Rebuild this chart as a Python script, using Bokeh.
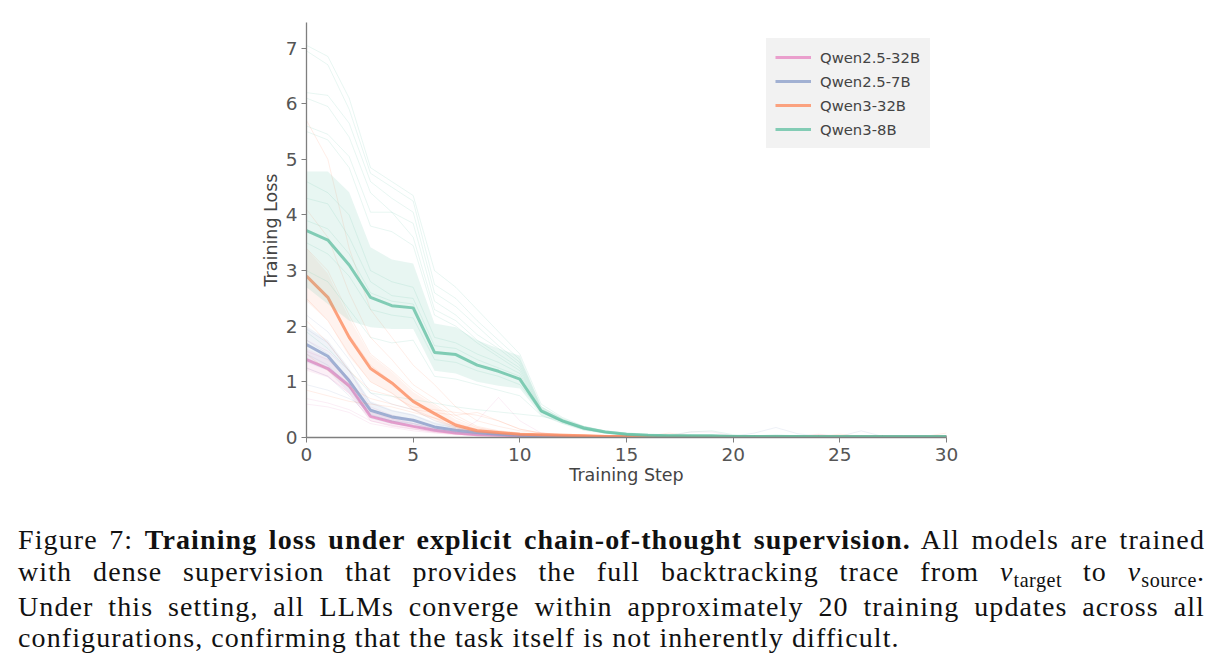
from bokeh.plotting import figure
from bokeh.models import Div
from bokeh.layouts import column
from bokeh.embed import file_html
from bokeh.resources import INLINE

# ---------------- data ----------------
steps = list(range(31))
x_ticks = [0, 5, 10, 15, 20, 25, 30]
y_ticks = [0, 1, 2, 3, 4, 5, 6, 7]
models = ["Qwen2.5-32B", "Qwen2.5-7B", "Qwen3-32B", "Qwen3-8B"]
colors = ["#e78ac3", "#8da0cb", "#fc8d62", "#66c2a5"]

pink_mean = [1.40,1.24,0.93,0.38,0.28,0.20,0.13,0.08,0.05,0.04,0.03,0.02,0.02,0.01,0.01,0.01,0.01,0.01,0.01,0.01,0.01,0.01,0.01,0.01,0.01,0.01,0.01,0.01,0.01,0.01,0.01]
pink_lo   = [1.20,1.08,0.78,0.30,0.20,0.14,0.08,0.05,0.03,0.02,0.01,0.01,0.01,0.00,0.00,0.00,0.00,0.00,0.00,0.00,0.00,0.00,0.00,0.00,0.00,0.00,0.00,0.00,0.00,0.00,0.00]
pink_hi   = [1.60,1.42,1.08,0.48,0.36,0.27,0.18,0.12,0.08,0.06,0.04,0.03,0.02,0.02,0.02,0.02,0.02,0.02,0.02,0.02,0.02,0.02,0.02,0.02,0.02,0.02,0.02,0.02,0.02,0.02,0.02]

blue_mean = [1.67,1.46,1.02,0.49,0.37,0.31,0.19,0.13,0.09,0.06,0.04,0.03,0.02,0.02,0.01,0.01,0.01,0.01,0.01,0.01,0.01,0.01,0.01,0.01,0.01,0.01,0.01,0.01,0.01,0.01,0.01]
blue_lo   = [1.35,1.20,0.80,0.38,0.27,0.22,0.12,0.07,0.04,0.03,0.02,0.01,0.01,0.01,0.00,0.00,0.00,0.00,0.00,0.00,0.00,0.00,0.00,0.00,0.00,0.00,0.00,0.00,0.00,0.00,0.00]
blue_hi   = [2.00,1.75,1.25,0.65,0.50,0.42,0.28,0.20,0.14,0.10,0.07,0.05,0.03,0.03,0.02,0.02,0.02,0.02,0.02,0.02,0.02,0.02,0.02,0.02,0.02,0.02,0.02,0.02,0.02,0.02,0.02]

orange_mean = [2.90,2.52,1.80,1.24,0.98,0.65,0.43,0.22,0.12,0.09,0.06,0.05,0.04,0.03,0.02,0.02,0.01,0.01,0.01,0.01,0.01,0.01,0.01,0.01,0.01,0.01,0.01,0.01,0.01,0.01,0.01]
orange_lo   = [2.45,2.10,1.45,1.00,0.78,0.48,0.30,0.14,0.07,0.05,0.03,0.02,0.01,0.01,0.00,0.00,0.00,0.00,0.00,0.00,0.00,0.00,0.00,0.00,0.00,0.00,0.00,0.00,0.00,0.00,0.00]
orange_hi   = [3.40,2.95,2.15,1.48,1.18,0.82,0.58,0.32,0.18,0.13,0.09,0.07,0.06,0.05,0.04,0.03,0.02,0.02,0.02,0.02,0.02,0.02,0.02,0.02,0.02,0.02,0.02,0.02,0.02,0.02,0.02]

green_mean = [3.72,3.55,3.10,2.52,2.37,2.33,1.53,1.49,1.30,1.19,1.05,0.48,0.30,0.17,0.10,0.06,0.04,0.03,0.03,0.03,0.02,0.02,0.02,0.02,0.02,0.02,0.02,0.02,0.02,0.02,0.02]
green_lo   = [2.70,2.40,2.10,1.98,1.95,1.95,1.20,1.15,1.00,0.93,0.88,0.40,0.25,0.14,0.08,0.04,0.03,0.02,0.02,0.02,0.01,0.01,0.01,0.01,0.01,0.01,0.01,0.01,0.01,0.01,0.01]
green_hi   = [4.78,4.78,4.41,3.42,3.20,3.13,2.05,1.98,1.75,1.60,1.47,0.56,0.35,0.20,0.12,0.08,0.06,0.05,0.04,0.04,0.03,0.03,0.03,0.03,0.03,0.03,0.03,0.03,0.03,0.03,0.03]

# individual runs (faint lines)
pink_runs = [
    [1.75,1.55,1.20,0.55,0.40,0.30,0.20,0.13,0.09,0.07,0.05,0.04,0.03,0.02,0.02,0.02,0.02,0.02,0.02,0.02,0.02,0.02,0.02,0.02,0.02,0.02,0.02,0.02,0.02,0.02,0.02],
    [1.55,1.40,1.05,0.45,0.33,0.25,0.16,0.10,0.07,0.05,0.03,0.03,0.02,0.02,0.02,0.02,0.02,0.02,0.02,0.02,0.02,0.02,0.02,0.02,0.02,0.02,0.02,0.02,0.02,0.02,0.02],
    [1.40,1.25,0.92,0.38,0.27,0.20,0.13,0.08,0.05,0.04,0.02,0.02,0.02,0.02,0.02,0.02,0.02,0.02,0.02,0.02,0.02,0.02,0.02,0.02,0.06,0.02,0.02,0.02,0.02,0.02,0.02],
    [1.25,1.10,0.80,0.30,0.22,0.16,0.10,0.06,0.04,0.03,0.02,0.02,0.02,0.02,0.02,0.02,0.02,0.02,0.02,0.02,0.02,0.02,0.02,0.02,0.02,0.02,0.02,0.02,0.02,0.02,0.02],
    [0.70,0.62,0.50,0.30,0.20,0.15,0.10,0.07,0.30,0.72,0.30,0.08,0.04,0.03,0.02,0.02,0.02,0.02,0.02,0.02,0.02,0.02,0.02,0.02,0.02,0.02,0.02,0.02,0.02,0.02,0.02],
    [0.60,0.55,0.45,0.25,0.18,0.12,0.08,0.05,0.04,0.03,0.02,0.02,0.02,0.02,0.02,0.02,0.02,0.02,0.10,0.10,0.03,0.02,0.02,0.02,0.02,0.02,0.02,0.02,0.02,0.02,0.02],
]
blue_runs = [
    [2.20,1.90,1.40,0.80,0.60,0.50,0.30,0.20,0.14,0.10,0.07,0.05,0.04,0.03,0.02,0.02,0.02,0.02,0.02,0.02,0.02,0.02,0.02,0.02,0.02,0.02,0.02,0.02,0.02,0.02,0.02],
    [1.95,1.70,1.20,0.62,0.48,0.40,0.25,0.17,0.12,0.08,0.05,0.04,0.03,0.02,0.02,0.02,0.02,0.02,0.02,0.02,0.02,0.08,0.18,0.07,0.02,0.02,0.02,0.02,0.02,0.02,0.02],
    [1.75,1.50,1.05,0.50,0.38,0.30,0.19,0.13,0.09,0.06,0.04,0.03,0.02,0.02,0.02,0.02,0.02,0.02,0.02,0.02,0.02,0.02,0.02,0.02,0.02,0.02,0.12,0.02,0.02,0.02,0.02],
    [1.50,1.30,0.90,0.42,0.30,0.25,0.15,0.10,0.07,0.05,0.03,0.02,0.02,0.02,0.02,0.02,0.02,0.02,0.02,0.02,0.02,0.02,0.02,0.02,0.02,0.02,0.02,0.02,0.02,0.02,0.02],
    [1.25,1.10,0.75,0.35,0.25,0.20,0.12,0.08,0.05,0.04,0.02,0.02,0.02,0.02,0.02,0.02,0.02,0.02,0.02,0.02,0.02,0.02,0.02,0.02,0.02,0.02,0.02,0.02,0.02,0.02,0.02],
    [0.95,0.85,0.70,0.50,0.40,0.32,0.20,0.14,0.10,0.07,0.05,0.04,0.03,0.02,0.02,0.02,0.02,0.02,0.02,0.02,0.02,0.02,0.02,0.02,0.02,0.02,0.02,0.02,0.02,0.02,0.02],
]
orange_runs = [
    [5.70,5.00,3.40,2.30,1.80,1.30,0.95,0.55,0.30,0.20,0.12,0.08,0.06,0.05,0.04,0.03,0.03,0.03,0.03,0.02,0.02,0.02,0.02,0.02,0.02,0.02,0.02,0.02,0.02,0.02,0.02],
    [4.10,3.60,2.60,1.80,1.40,0.95,0.70,0.40,0.20,0.12,0.08,0.06,0.05,0.04,0.03,0.03,0.02,0.02,0.02,0.02,0.02,0.02,0.02,0.02,0.02,0.02,0.02,0.02,0.02,0.02,0.02],
    [3.40,3.00,2.20,1.50,1.20,0.85,0.60,0.35,0.18,0.10,0.07,0.05,0.04,0.03,0.03,0.02,0.02,0.02,0.02,0.02,0.02,0.02,0.02,0.02,0.02,0.02,0.02,0.02,0.02,0.02,0.02],
    [2.90,2.50,1.85,1.30,1.00,0.65,0.45,0.25,0.12,0.08,0.05,0.04,0.03,0.03,0.02,0.02,0.02,0.02,0.02,0.02,0.02,0.02,0.02,0.02,0.02,0.06,0.02,0.02,0.02,0.02,0.02],
    [2.50,2.10,1.50,1.00,0.80,0.50,0.35,0.18,0.10,0.07,0.05,0.04,0.03,0.02,0.02,0.02,0.02,0.02,0.02,0.02,0.02,0.02,0.02,0.02,0.02,0.02,0.02,0.02,0.02,0.02,0.08],
    [2.10,1.70,1.20,0.85,0.75,0.55,0.50,0.45,0.40,0.30,0.15,0.08,0.05,0.04,0.03,0.03,0.03,0.08,0.03,0.02,0.02,0.02,0.02,0.02,0.02,0.02,0.02,0.02,0.02,0.02,0.02],
    [0.85,0.75,0.65,0.60,0.55,0.45,0.35,0.25,0.15,0.10,0.06,0.04,0.03,0.03,0.02,0.02,0.02,0.02,0.02,0.02,0.02,0.02,0.02,0.02,0.05,0.02,0.02,0.02,0.02,0.02,0.02],
    [1.50,1.20,0.90,0.70,0.60,0.50,0.45,0.40,0.45,0.30,0.15,0.08,0.05,0.04,0.03,0.03,0.02,0.02,0.02,0.02,0.02,0.02,0.02,0.02,0.02,0.02,0.02,0.02,0.02,0.02,0.02],
]
green_runs = [
    [7.05,6.85,6.10,4.85,4.60,4.35,3.00,2.70,2.30,1.90,1.50,0.60,0.36,0.20,0.12,0.08,0.06,0.05,0.05,0.04,0.04,0.03,0.05,0.03,0.03,0.03,0.03,0.02,0.02,0.02,0.02],
    [6.95,6.70,5.90,4.75,4.50,4.25,2.75,2.50,2.10,1.75,1.40,0.55,0.33,0.18,0.10,0.07,0.05,0.04,0.04,0.04,0.03,0.03,0.03,0.03,0.03,0.02,0.02,0.02,0.02,0.02,0.02],
    [6.20,6.15,5.65,4.60,4.30,4.05,2.60,2.35,2.00,1.65,1.35,0.52,0.31,0.17,0.10,0.06,0.05,0.04,0.10,0.12,0.05,0.03,0.03,0.03,0.02,0.02,0.02,0.02,0.02,0.02,0.02],
    [6.10,5.95,5.40,4.40,4.05,3.85,2.45,2.20,1.85,1.60,1.30,0.50,0.30,0.16,0.09,0.06,0.05,0.04,0.04,0.03,0.03,0.03,0.03,0.03,0.02,0.02,0.02,0.02,0.02,0.02,0.02],
    [5.60,5.45,5.05,4.05,4.05,3.60,2.30,2.10,1.75,1.50,1.25,0.48,0.29,0.16,0.09,0.06,0.04,0.04,0.03,0.03,0.03,0.03,0.03,0.02,0.02,0.02,0.02,0.02,0.02,0.02,0.02],
    [5.50,5.35,4.85,3.80,3.70,3.45,2.20,2.00,1.70,1.45,1.20,0.47,0.28,0.15,0.09,0.05,0.04,0.03,0.03,0.03,0.03,0.03,0.02,0.02,0.02,0.02,0.02,0.02,0.02,0.02,0.02],
    [4.60,4.40,4.00,3.00,2.80,2.70,1.80,1.70,1.50,1.35,1.15,0.46,0.28,0.15,0.09,0.05,0.04,0.03,0.03,0.03,0.03,0.02,0.02,0.02,0.02,0.02,0.02,0.02,0.02,0.02,0.02],
    [4.30,4.20,3.60,2.80,2.55,2.50,1.65,1.60,1.40,1.25,1.10,0.45,0.27,0.14,0.08,0.05,0.04,0.03,0.03,0.03,0.02,0.02,0.02,0.02,0.02,0.02,0.02,0.02,0.02,0.02,0.02],
    [3.90,3.75,3.30,2.60,2.45,2.40,1.55,1.50,1.32,1.20,1.05,0.47,0.29,0.16,0.10,0.06,0.04,0.03,0.03,0.03,0.02,0.02,0.02,0.02,0.02,0.02,0.02,0.02,0.02,0.02,0.02],
    [3.50,3.30,2.90,2.30,2.20,2.15,1.40,1.35,1.20,1.10,0.95,0.46,0.28,0.15,0.09,0.05,0.04,0.03,0.03,0.02,0.02,0.02,0.02,0.02,0.02,0.02,0.02,0.02,0.02,0.02,0.02],
    [3.00,2.80,2.30,1.80,1.70,1.75,1.10,1.05,0.95,0.85,0.75,0.40,0.25,0.13,0.08,0.05,0.03,0.03,0.03,0.02,0.02,0.02,0.02,0.02,0.02,0.02,0.02,0.02,0.02,0.02,0.02],
    [1.90,1.60,1.20,0.80,0.74,0.68,0.62,0.55,0.50,0.46,0.42,0.38,0.30,0.20,0.12,0.08,0.06,0.05,0.04,0.04,0.03,0.03,0.03,0.03,0.02,0.02,0.02,0.02,0.02,0.02,0.02],
]

series = [
    (pink_runs, pink_lo, pink_hi, pink_mean),
    (blue_runs, blue_lo, blue_hi, blue_mean),
    (orange_runs, orange_lo, orange_hi, orange_mean),
    (green_runs, green_lo, green_hi, green_mean),
]

# ---------------- figure ----------------
p = figure(width=1226, height=500, x_range=(0, 30), y_range=(0, 7.46),
           output_backend="svg", toolbar_location=None,
           min_border_left=306, min_border_right=280,
           min_border_top=22, min_border_bottom=63)
p.outline_line_color = None
p.xgrid.visible = False
p.ygrid.visible = False
p.background_fill_color = "white"

band_alpha = [0.13, 0.13, 0.10, 0.15]
for name, col, ba, (runs, lo, hi, mean) in zip(models, colors, band_alpha, series):
    p.multi_line([steps] * len(runs), runs, line_color=col, line_alpha=0.15, line_width=1)
    p.varea(x=steps, y1=lo, y2=hi, fill_color=col, fill_alpha=ba)
    p.line(steps, mean, line_color=col, line_alpha=0.8, line_width=3, legend_label=name)

for ax in (p.xaxis[0], p.yaxis[0]):
    ax.axis_line_color = "#7f7f7f"
    ax.axis_line_width = 1.3
    ax.major_tick_line_color = "#7f7f7f"
    ax.major_tick_out = 5
    ax.major_tick_in = 0
    ax.minor_tick_line_color = None
    ax.major_label_text_font = "DejaVu Sans"
    ax.major_label_text_font_size = "18.5px"
    ax.major_label_text_color = "#555555"
    ax.axis_label_text_font = "DejaVu Sans"
    ax.axis_label_text_font_size = "17.5px"
    ax.axis_label_text_font_style = "normal"
    ax.axis_label_text_color = "#444444"

p.xaxis.ticker = x_ticks
p.yaxis.ticker = y_ticks
p.xaxis.axis_label = "Training Step"
p.yaxis.axis_label = "Training Loss"
p.xaxis.major_label_standoff = 5
p.yaxis.major_label_standoff = 4
p.xaxis.axis_label_standoff = 1
p.yaxis.axis_label_standoff = 2

lg = p.legend[0]
lg.location = (460, 289)
lg.background_fill_color = "#f2f2f2"
lg.background_fill_alpha = 1.0
lg.border_line_color = "#f2f2f2"
lg.border_line_width = 9
lg.border_line_alpha = 1.0
lg.label_text_font = "DejaVu Sans"
lg.label_text_font_size = "14.8px"
lg.label_text_color = "#444444"
lg.glyph_width = 36
lg.glyph_height = 20
lg.label_height = 20
lg.label_width = 101
lg.label_standoff = 9
lg.spacing = 4
lg.padding = 0
lg.margin = 0

caption_html = """
<div style="position:relative; left:18px; width:1187px; padding-top:24px;
            font-family:'Liberation Serif', serif; font-size:28px; letter-spacing:1.1px;
            line-height:31.8px; color:#111;">
  <div style="text-align:justify; text-align-last:justify; white-space:nowrap;">Figure 7: <b>Training loss under explicit chain-of-thought supervision.</b> All models are trained</div>
  <div style="text-align:justify; text-align-last:justify;">with dense supervision that provides the full backtracking trace from <i>v</i><span style="font-size:0.72em; position:relative; top:0.3em; letter-spacing:0.5px;">target</span> to <i>v</i><span style="font-size:0.72em; position:relative; top:0.3em; letter-spacing:0.5px;">source</span>.</div>
  <div style="text-align:justify; text-align-last:justify;">Under this setting, all LLMs converge within approximately 20 training updates across all</div>
  <div style="text-align:left;">configurations, confirming that the task itself is not inherently difficult.</div>
</div>
"""
caption = Div(text=caption_html, width=1226, height=171, margin=0)

layout = column(p, caption, spacing=0)
open("out.html", "w").write(file_html(layout, INLINE))
